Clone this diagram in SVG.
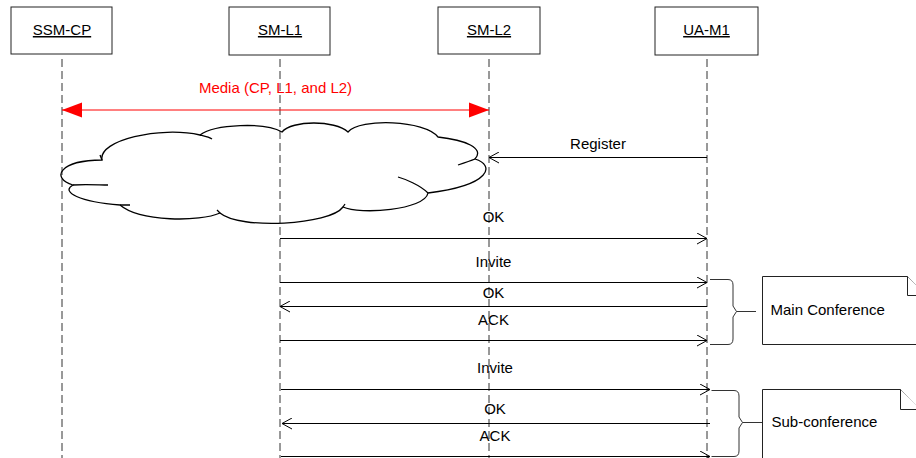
<svg xmlns="http://www.w3.org/2000/svg" width="916" height="458" viewBox="0 0 916 458">
<style>
  text { font-family: "Liberation Sans", Arial, sans-serif; font-size: 15px; fill: #000; }
  .lbl { text-anchor: middle; }
  .box { fill: #fff; stroke: #222; stroke-width: 1; }
  .life { stroke: #333; stroke-width: 1; stroke-dasharray: 8 4; fill: none; }
  .msg { stroke: #000; stroke-width: 1; fill: none; }
  .media { stroke: #f00; stroke-width: 1; fill: none; }
  .cloud { fill: none; stroke: #000; stroke-width: 1.3; }
  .brace { fill: none; stroke: #333; stroke-width: 1; }
  .note { fill: #fff; stroke: #222; stroke-width: 1; }
</style>
<defs>
  <marker id="open" viewBox="0 0 12 12" refX="11" refY="6" markerWidth="12" markerHeight="12" markerUnits="userSpaceOnUse" orient="auto">
    <path d="M1 0.5 L11 6 L1 11.5" fill="none" stroke="#000" stroke-width="1"/>
  </marker>
  <marker id="redtri" viewBox="0 0 20 16" refX="20" refY="8" markerWidth="20" markerHeight="16" markerUnits="userSpaceOnUse" orient="auto-start-reverse">
    <path d="M0 0.5 L20 8 L0 15.5 Z" fill="#f00"/>
  </marker>
</defs>
<rect width="916" height="458" fill="#fff"/>

<g id="lifelines">
  <line class="life" x1="62" y1="59" x2="62" y2="458"/>
  <line class="life" x1="280" y1="59" x2="280" y2="458"/>
  <line class="life" x1="489" y1="59" x2="489" y2="458"/>
  <line class="life" x1="707" y1="59" x2="707" y2="458" stroke="#555"/>
</g>

<g id="SSM-CP">
  <rect class="box" x="11" y="7" width="101" height="47"/>
  <text class="lbl" x="62" y="35" text-decoration="underline">SSM-CP</text>
</g>
<g id="SM-L1">
  <rect class="box" x="229" y="7" width="101" height="48"/>
  <text class="lbl" x="280" y="35" text-decoration="underline">SM-L1</text>
</g>
<g id="SM-L2">
  <rect class="box" x="438" y="7" width="102" height="47"/>
  <text class="lbl" x="489" y="35" text-decoration="underline">SM-L2</text>
</g>
<g id="UA-M1">
  <rect class="box" x="655" y="7" width="103" height="48"/>
  <text class="lbl" x="706.5" y="35" text-decoration="underline">UA-M1</text>
</g>

<g id="cloud">
  <path class="cloud" d="M102 160 C98 140 160 126 200 135 C215 124 265 122 282 132 C292 120 335 120 348 132 C360 118 425 120 438 137 C465 140 485 148 475 159 C495 165 492 185 428 193 C425 210 360 215 343 207 C330 225 240 230 220 213 C200 222 140 222 120 205 C80 202 60 192 73 185 C50 178 60 160 102 160 Z"/>
  <path class="cloud" d="M200 135 C204 136 209 137 212 139 M475 159 C470 161 464 163 458 165 M428 193 C420 185 405 179 398 177 M120 205 L130 205 M73 185 C85 184 100 185 108 185 M102 160 L100 155 M343 207 L345 204 M220 213 L217 210"/>
</g>

<g id="connectors">
  <line class="media" x1="62" y1="110" x2="489" y2="110" marker-start="url(#redtri)" marker-end="url(#redtri)"/>
  <line class="msg" x1="707" y1="157.5" x2="489" y2="157.5" marker-end="url(#open)"/>
  <line class="msg" x1="280" y1="238.5" x2="707" y2="238.5" marker-end="url(#open)"/>
  <line class="msg" x1="280" y1="282.5" x2="707" y2="282.5" marker-end="url(#open)"/>
  <line class="msg" x1="707" y1="306.5" x2="280" y2="306.5" marker-end="url(#open)"/>
  <line class="msg" x1="280" y1="340.5" x2="707" y2="340.5" marker-end="url(#open)"/>
  <line class="msg" x1="281" y1="389.5" x2="710" y2="389.5" marker-end="url(#open)"/>
  <line class="msg" x1="710" y1="423.5" x2="282" y2="423.5" marker-end="url(#open)"/>
  <line class="msg" x1="281" y1="456.5" x2="710" y2="456.5" marker-end="url(#open)"/>
</g>

<g id="labels">
  <text class="lbl" x="275.5" y="93" fill="#f00" style="fill:#f00">Media (CP, L1, and L2)</text>
  <text class="lbl" x="598" y="149">Register</text>
  <text class="lbl" x="493.5" y="222">OK</text>
  <text class="lbl" x="493.5" y="267">Invite</text>
  <text class="lbl" x="493.5" y="298">OK</text>
  <text class="lbl" x="493.5" y="325">ACK</text>
  <text class="lbl" x="495" y="373">Invite</text>
  <text class="lbl" x="495" y="414">OK</text>
  <text class="lbl" x="495" y="441">ACK</text>
</g>

<g id="main-conference">
  <path class="brace" d="M710 279.5 H728 Q733 279.5 733 285 V306 L736.5 311.5 L733 317 V339 Q733 344.5 728 344.5 H710 M736.5 311.5 H756"/>
  <path class="note" d="M762.5 276.5 H907.5 L927 296 V344.5 H762.5 Z"/>
  <path class="note" d="M907.5 276.5 V295.5 H927" fill="none"/>
  <text x="770.5" y="314.5">Main Conference</text>
</g>

<g id="sub-conference">
  <path class="brace" d="M711.5 390.5 H734 Q739 390.5 739 396 V417 L742.5 422.5 L739 428 V451 Q739 456.5 734 456.5 H711.5 M742.5 422.5 H762"/>
  <path class="note" d="M762.5 389.5 H900.5 L921 410 V470 H762.5 Z"/>
  <path class="note" d="M900.5 389.5 V409.5 H921" fill="none"/>
  <text x="771.5" y="427">Sub-conference</text>
</g>
</svg>
